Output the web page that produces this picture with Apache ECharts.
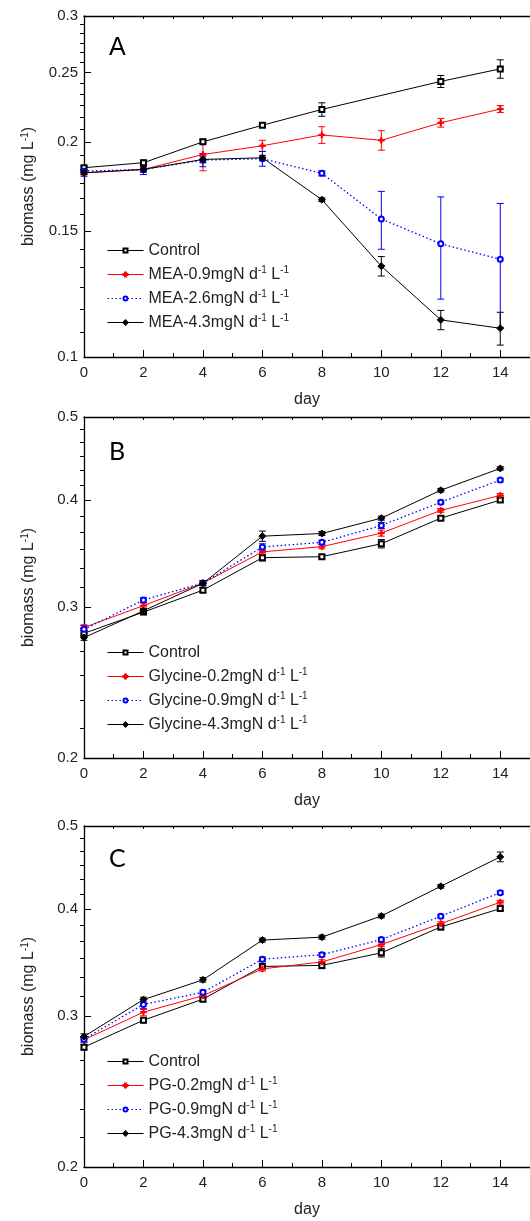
<!DOCTYPE html>
<html>
<head>
<meta charset="utf-8">
<title>biomass</title>
<script src="https://cdn.jsdelivr.net/npm/echarts@6.0.0/dist/echarts.min.js"></script>
<style>
    html, body { margin: 0; padding: 0; background: #fff; }
    #chart { width: 530px; height: 1221px; }
</style>
</head>
<body>
<div id="chart"></div>
<script>
// 数据
var days = [0, 2, 4, 6, 8, 10, 12, 14];
var xMajorTicks = [0, 2, 4, 6, 8, 10, 12, 14];
var xMinorTicks = [1, 3, 5, 7, 9, 11, 13];
var yTicksA = [0.1, 0.15, 0.2, 0.25, 0.3];
var yTicksBC = [0.2, 0.3, 0.4, 0.5];

var namesA = ['Control', 'MEA-0.9mgN', 'MEA-2.6mgN', 'MEA-4.3mgN'];
var namesB = ['Control', 'Glycine-0.2mgN', 'Glycine-0.9mgN', 'Glycine-4.3mgN'];
var namesC = ['Control', 'PG-0.2mgN', 'PG-0.9mgN', 'PG-4.3mgN'];

// A: MEA
var ctrlA = [0.184, 0.187, 0.200, 0.211, 0.222, null, 0.243, 0.253];
var ctrlAErr = [0.001, 0.0015, 0.0012, 0.001, 0.0048, null, 0.0047, 0.0075];
var mea09 = [0.181, 0.183, 0.192, 0.1975, 0.2045, 0.201, 0.2127, 0.2223];
var mea09Err = [0.0012, 0.0015, 0.0098, 0.0035, 0.0055, 0.0063, 0.003, 0.0025];
var mea26 = [0.182, 0.183, 0.1886, 0.1894, 0.1807, 0.156, 0.144, 0.137];
var mea26Err = [0.003, 0.003, 0.004, 0.0045, 0.0015, 0.0145, 0.0235, 0.027];
var mea43 = [0.181, 0.183, 0.189, 0.190, 0.166, 0.134, 0.1127, 0.1097];
var mea43Err = [0.001, 0.0015, 0.002, 0.0015, 0.001, 0.0042, 0.0035, 0.0058];

// B: Glycine
var ctrlB = [0.2796, 0.296, 0.314, 0.3426, 0.3435, 0.3557, 0.381, 0.400];
var ctrlBErr = [0.002, 0.002, 0.002, 0.003, 0.002, 0.004, 0.002, 0.002];
var gly02 = [0.284, 0.3012, 0.320, 0.348, 0.3529, 0.366, 0.389, 0.405];
var gly02Err = [0.002, 0.002, 0.002, 0.002, 0.002, 0.003, 0.002, 0.002];
var gly09 = [0.2826, 0.3058, 0.320, 0.3526, 0.357, 0.3736, 0.3977, 0.422];
var gly09Err = [0.003, 0.002, 0.002, 0.003, 0.002, 0.003, 0.002, 0.002];
var gly43 = [0.2764, 0.297, 0.3198, 0.363, 0.3656, 0.381, 0.4107, 0.4355];
var gly43Err = [0.002, 0.002, 0.002, 0.005, 0.002, 0.002, 0.002, 0.002];

// C: PG
var ctrlC = [0.276, 0.2967, 0.314, 0.3428, 0.3438, 0.3556, 0.3812, 0.4005];
var ctrlCErr = [0.002, 0.002, 0.002, 0.003, 0.003, 0.004, 0.003, 0.002];
var pg02 = [0.2815, 0.3032, 0.3169, 0.3406, 0.347, 0.3636, 0.3846, 0.4074];
var pg02Err = [0.002, 0.003, 0.002, 0.002, 0.002, 0.002, 0.002, 0.002];
var pg09 = [0.282, 0.3096, 0.3198, 0.3496, 0.3538, 0.3685, 0.3924, 0.418];
var pg09Err = [0.002, 0.004, 0.002, 0.002, 0.002, 0.002, 0.002, 0.002];
var pg43 = [0.284, 0.3136, 0.3307, 0.368, 0.3709, 0.3926, 0.4252, 0.4602];
var pg43Err = [0.002, 0.002, 0.002, 0.002, 0.002, 0.002, 0.002, 0.006];

var FONT = 'Liberation Sans';

var panels = [
    { letter: 'A', letterFont: FONT, letterTop: 36, names: namesA, values: [ctrlA, mea09, mea26, mea43],
      errs: [ctrlAErr, mea09Err, mea26Err, mea43Err], yTicks: yTicksA, top: 16, legendTop: 241.5 },
    { letter: 'B', letterFont: 'Lato', letterTop: 439, names: namesB, values: [ctrlB, gly02, gly09, gly43],
      errs: [ctrlBErr, gly02Err, gly09Err, gly43Err], yTicks: yTicksBC, top: 417, legendTop: 643.5 },
    { letter: 'C', letterFont: 'Lato', letterTop: 846, names: namesC, values: [ctrlC, pg02, pg09, pg43],
      errs: [ctrlCErr, pg02Err, pg09Err, pg43Err], yTicks: yTicksBC, top: 826, legendTop: 1052.5 }
];

// 四条线的样式
var styles = [
    { color: '#000', symbol: 'emptyRect', size: 5, type: 'solid', width: 1 },
    { color: '#ff0000', symbol: 'path://M2,0H3V2H5V3H3V5H2V3H0V2H2Z', size: 6, type: 'solid', width: 1 },
    { color: '#0000ff', symbol: 'emptyCircle', size: 5, type: [1.5, 2.5], width: 1.3 },
    { color: '#000', symbol: 'diamond', size: 7, type: 'solid', width: 1 }
];

// 每两个主刻度之间 5 个次刻度
function minorTicks(majors) {
    var out = [];
    for (var i = 0; i < majors.length - 1; i++) {
        var step = (majors[i + 1] - majors[i]) / 6;
        for (var k = 1; k <= 5; k++) {
            out.push(+(majors[i] + k * step).toFixed(6));
        }
    }
    return out;
}

function renderErr(params, api) {
    var x = api.value(0);
    var lo = api.coord([x, api.value(1)]);
    var hi = api.coord([x, api.value(2)]);
    var w = 3.5;
    var style = { stroke: api.visual('color'), lineWidth: 1 };
    return {
        type: 'group',
        children: [
            { type: 'line', shape: { x1: lo[0], y1: lo[1], x2: hi[0], y2: hi[1] }, style: style },
            { type: 'line', shape: { x1: lo[0] - w, y1: lo[1], x2: lo[0] + w, y2: lo[1] }, style: style },
            { type: 'line', shape: { x1: hi[0] - w, y1: hi[1], x2: hi[0] + w, y2: hi[1] }, style: style }
        ]
    };
}

var grid = [], xAxis = [], yAxis = [], series = [], legend = [], title = [];
var axisLine = { show: true, lineStyle: { color: '#000', width: 1.3 } };
var allX = xMajorTicks.concat(xMinorTicks).sort(function (a, b) { return a - b; });

panels.forEach(function (p, gi) {
    grid.push({ left: 84, top: p.top, width: 448, height: 341 });

    // 下方主刻度 / 次刻度 / 上方框线
    xAxis.push({
        gridIndex: gi, type: 'value', min: 0, max: 15, position: 'bottom',
        axisLine: axisLine, splitLine: { show: false },
        axisTick: { inside: true, length: 7, customValues: xMajorTicks, lineStyle: { color: '#000' } },
        axisLabel: { customValues: xMajorTicks, margin: 8, fontSize: 15, color: '#222', fontFamily: FONT },
        name: 'day', nameLocation: 'middle', nameGap: 35,
        nameTextStyle: { fontSize: 16, color: '#222', fontFamily: FONT }
    });
    xAxis.push({
        gridIndex: gi, type: 'value', min: 0, max: 15, position: 'bottom',
        axisLine: { show: false }, splitLine: { show: false }, axisLabel: { show: false },
        axisTick: { inside: true, length: 4, customValues: xMinorTicks, lineStyle: { color: '#000' } }
    });
    xAxis.push({
        gridIndex: gi, type: 'value', min: 0, max: 15, position: 'top',
        axisLine: axisLine, splitLine: { show: false }, axisLabel: { show: false },
        axisTick: { inside: true, length: 3, customValues: allX, lineStyle: { color: '#000' } }
    });

    var yMin = p.yTicks[0], yMax = p.yTicks[p.yTicks.length - 1];
    yAxis.push({
        gridIndex: gi, type: 'log', logBase: 10, min: yMin, max: yMax,
        axisLine: axisLine, splitLine: { show: false },
        axisTick: { inside: true, length: 7, customValues: p.yTicks, lineStyle: { color: '#000' } },
        axisLabel: {
            customValues: p.yTicks, margin: 6, fontSize: 15, color: '#222', fontFamily: FONT,
            formatter: function (v) { return String(+v.toFixed(3)); }
        },
        name: '{t|biomass (mg L}{s|-1}{t|)}', nameLocation: 'middle', nameGap: 46,
        nameTextStyle: {
            fontFamily: FONT,
            rich: {
                t: { fontSize: 16, color: '#222', fontFamily: FONT, lineHeight: 18 },
                s: { fontSize: 10, color: '#222', fontFamily: FONT, verticalAlign: 'top' }
            }
        }
    });
    yAxis.push({
        gridIndex: gi, type: 'log', logBase: 10, min: yMin, max: yMax,
        axisLine: { show: false }, splitLine: { show: false }, axisLabel: { show: false },
        axisTick: { inside: true, length: 4, customValues: minorTicks(p.yTicks), lineStyle: { color: '#000' } }
    });

    p.names.forEach(function (name, si) {
        var st = styles[si];
        var vals = p.values[si];
        series.push({
            name: name, type: 'line', xAxisIndex: gi * 3, yAxisIndex: gi * 2,
            data: days.map(function (d, i) { return [d, vals[i]]; }),
            connectNulls: true, symbol: st.symbol, symbolSize: st.size, showSymbol: true,
            lineStyle: { color: st.color, width: st.width, type: st.type },
            itemStyle: { color: st.color, borderColor: st.color, borderWidth: 1 },
            z: 3
        });
        var errs = p.errs[si];
        series.push({
            type: 'custom', name: name + '-err', xAxisIndex: gi * 3, yAxisIndex: gi * 2,
            renderItem: renderErr,
            encode: { x: 0, y: [1, 2] },
            itemStyle: { color: st.color },
            data: days.filter(function (d, i) { return vals[i] != null; }).map(function (d) {
                var i = days.indexOf(d);
                return [d, vals[i] - errs[i], vals[i] + errs[i]];
            }),
            z: 2
        });
    });

    legend.push({
        data: p.names, orient: 'vertical', left: 107, top: p.legendTop,
        itemWidth: 36, itemHeight: 5, itemGap: 6, padding: 0,
        selectedMode: false,
        lineStyle: { width: 1, type: 'inherit' },
        formatter: function (name) {
            return name === 'Control' ? name : name + ' d{s|-1} L{s|-1}';
        },
        textStyle: {
            fontSize: 16, color: '#222', fontFamily: FONT, lineHeight: 18,
            rich: { s: { fontSize: 10, color: '#222', fontFamily: FONT, verticalAlign: 'top' } }
        }
    });

    title.push({
        text: p.letter, left: 109, top: p.letterTop, padding: 0,
        textStyle: { fontSize: 25, fontWeight: 'normal', color: '#000', fontFamily: p.letterFont }
    });
});

var myChart = echarts.init(document.getElementById('chart'));
myChart.setOption({
    animation: false,
    title: title,
    legend: legend,
    grid: grid,
    xAxis: xAxis,
    yAxis: yAxis,
    series: series
});
</script>
</body>
</html>
